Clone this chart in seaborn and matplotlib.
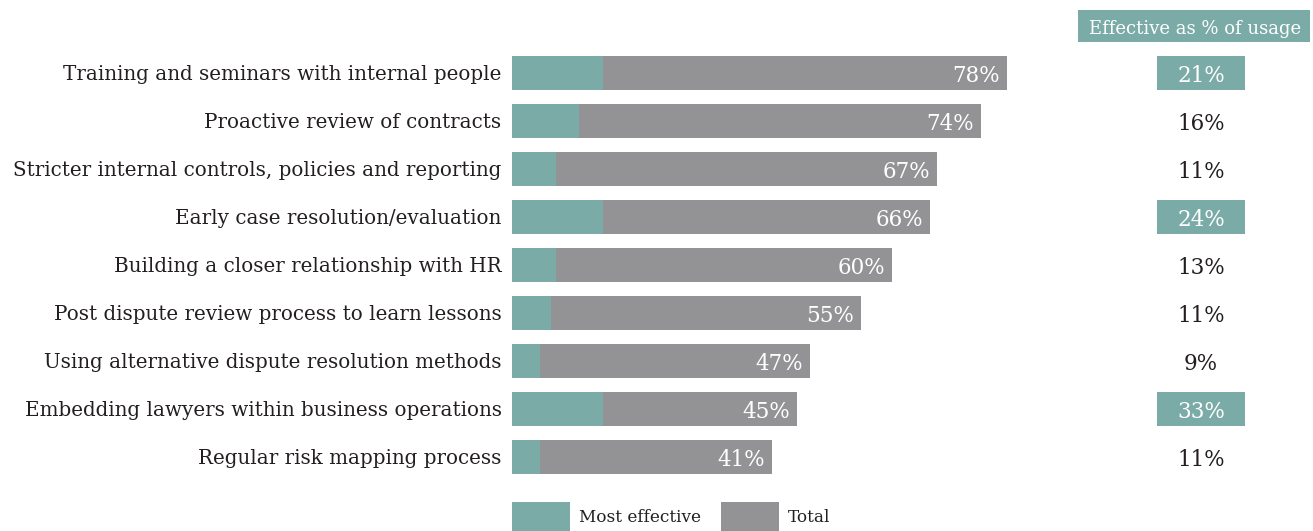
import matplotlib
matplotlib.use("Agg")
import matplotlib.pyplot as plt
import matplotlib.transforms as mtransforms
from matplotlib.patches import Rectangle
import pandas as pd
import seaborn as sns

categories = [
    "Training and seminars with internal people",
    "Proactive review of contracts",
    "Stricter internal controls, policies and reporting",
    "Early case resolution/evaluation",
    "Building a closer relationship with HR",
    "Post dispute review process to learn lessons",
    "Using alternative dispute resolution methods",
    "Embedding lawyers within business operations",
    "Regular risk mapping process",
]
total = [78, 74, 67, 66, 60, 55, 47, 45, 41]
most_effective = [14.4, 10.6, 6.9, 14.4, 6.9, 6.2, 4.4, 14.4, 4.4]
effective_pct = [21, 16, 11, 24, 13, 11, 9, 33, 11]
highlighted = [True, False, False, True, False, False, False, True, False]

TEAL = "#7baba7"
GREY = "#939396"
INK = "#231f20"

df = pd.DataFrame({"category": categories, "total": total,
                   "most_effective": most_effective})

sns.set_theme(style="white")
plt.rcParams["font.family"] = ["DejaVu Serif", "Liberation Serif"]
FS = 14.3

fig = plt.figure(figsize=(13.13, 5.31), dpi=100)
W, H = 1313, 531
ax = fig.add_axes([512 / W, 1 - 481 / H, 532 / W, 432 / H])

sns.barplot(data=df, y="category", x="total", orient="h", color=GREY,
            saturation=1, width=0.71, linewidth=0, label="Total", ax=ax)
sns.barplot(data=df, y="category", x="most_effective", orient="h", color=TEAL,
            saturation=1, width=0.71, linewidth=0, label="Most effective",
            ax=ax)

ax.set_xlim(0, 532 / 6.34)
ax.set_ylim(len(categories) - 0.5, -0.5)
ax.set_xlabel("")
ax.set_ylabel("")
ax.set_xticks([])
ax.tick_params(axis="y", length=0, pad=7.5, labelsize=FS, labelcolor=INK)
for lbl in ax.get_yticklabels():
    lbl.set_verticalalignment("center_baseline")
for s in ax.spines.values():
    s.set_visible(False)

# value labels inside the grey bars
for i, v in enumerate(total):
    ax.text(v - 1.1, i, f"{v}%", ha="right", va="center_baseline",
            color="white", fontsize=15.5)

# right-hand column: effective as % of usage
col = mtransforms.blended_transform_factory(fig.transFigure, ax.transData)
for i, (v, hl) in enumerate(zip(effective_pct, highlighted)):
    if hl:
        ax.add_patch(Rectangle((1157 / W, i - 0.355), 88 / W, 0.71,
                               transform=col, facecolor=TEAL,
                               edgecolor="none", clip_on=False))
    ax.text(1201 / W, i, f"{v}%", transform=col, ha="center",
            va="center_baseline", color="white" if hl else INK,
            fontsize=15.5, clip_on=False)

fig.patches.append(Rectangle((1078 / W, 1 - 42 / H), 232 / W, 32 / H,
                             transform=fig.transFigure, facecolor=TEAL,
                             edgecolor="none"))
fig.text(1195 / W, 1 - 27 / H, "Effective as % of usage", ha="center",
         va="center_baseline", color="white", fontsize=13)

handles, labels = ax.get_legend_handles_labels()
order = [labels.index("Most effective"), labels.index("Total")]
ax.legend([handles[k] for k in order], [labels[k] for k in order],
          loc="lower left", bbox_to_anchor=(512 / W, 0),
          bbox_transform=fig.transFigure, ncol=2, frameon=False,
          fontsize=12.2, handlelength=3.4, handleheight=2.25,
          handletextpad=0.55, columnspacing=1.2, borderpad=0,
          borderaxespad=0, labelcolor=INK)

fig.savefig("out.png", dpi=100)
